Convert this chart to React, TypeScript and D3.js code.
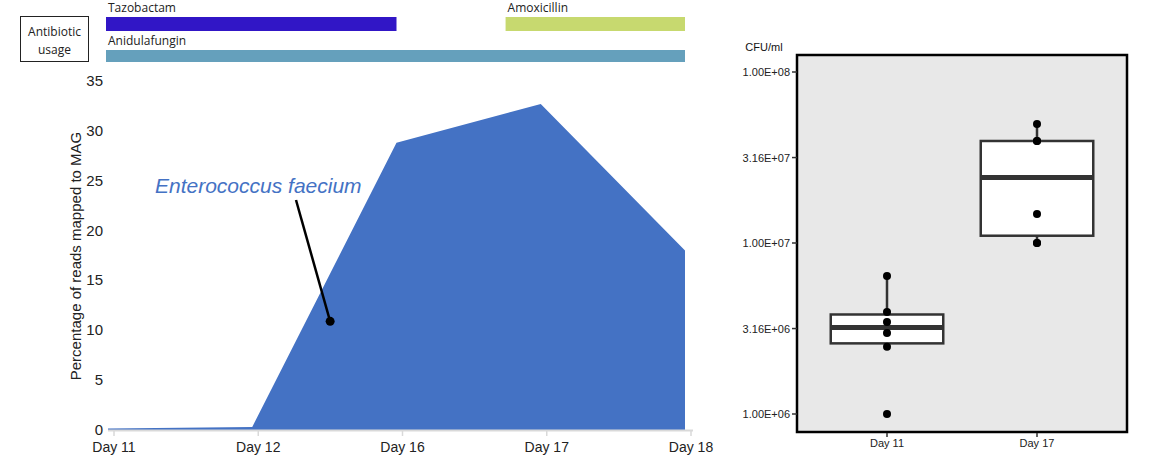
import React from "react";
import * as d3 from "d3";

// ---- Left chart data ----
const days = ["Day 11", "Day 12", "Day 16", "Day 17", "Day 18"];
const percentReads = [0.15, 0.3, 28.8, 32.7, 18.0];
const yTicksLeft = [0, 5, 10, 15, 20, 25, 30, 35];

// antibiotic usage spans, in day-index units
const antibioticNames = ["Tazobactam", "Amoxicillin", "Anidulafungin"];
const antibioticStart = [0, 2.77, 0];
const antibioticEnd = [2.0, 4, 4];
const antibioticRow = [0, 0, 1];
const antibioticColors = ["#3116c6", "#c7d96f", "#65a0bc"];

// ---- Right chart data ----
const cfuGroups = ["Day 11", "Day 17"];
const cfuDay11 = [1.0e6, 2.47e6, 2.98e6, 3.45e6, 3.95e6, 6.41e6];
const cfuDay17 = [1.0e7, 1.0e7, 1.48e7, 3.95e7, 3.95e7, 4.97e7];
const cfuTicks = [1e6, 3.16e6, 1e7, 3.16e7, 1e8];
const cfuTickLabels = ["1.00E+06", "3.16E+06", "1.00E+07", "3.16E+07", "1.00E+08"];

function boxStats(vals: number[]) {
  const logs = vals.map((v) => Math.log10(v)).sort(d3.ascending);
  const q1 = d3.quantile(logs, 0.25)!;
  const med = d3.quantile(logs, 0.5)!;
  const q3 = d3.quantile(logs, 0.75)!;
  const iqr = q3 - q1;
  const lo = d3.min(logs.filter((l) => l >= q1 - 1.5 * iqr))!;
  const hi = d3.max(logs.filter((l) => l <= q3 + 1.5 * iqr))!;
  const p = (l: number) => Math.pow(10, l);
  return { q1: p(q1), med: p(med), q3: p(q3), lo: p(lo), hi: p(hi) };
}

export default function App() {
  const W = 1166, H = 463;
  // left scales
  const x = d3.scalePoint<string>().domain(days).range([108, 685]);
  const xi = d3.scaleLinear().domain([0, days.length - 1]).range([108, 685]);
  const y = d3.scaleLinear().domain([0, 35]).range([430, 81]);
  const area = d3
    .area<number>()
    .x((_, i) => x(days[i])!)
    .y0(y(0))
    .y1((d) => y(d));
  const tickOffset = 6;

  // right scales
  const px0 = 797, px1 = 1127, py0 = 55, py1 = 432;
  const xr = d3.scalePoint<string>().domain(cfuGroups).range([px0, px1]).padding(0.6);
  const boxW = xr.step() * 0.75;
  const yr = d3.scaleLog().domain([1e6, 1e8]).range([414, 72]);
  const groupsData = [cfuDay11, cfuDay17];

  const sans = "'Liberation Sans', Arial, sans-serif";
  const ui = "'Open Sans', 'Noto Sans', sans-serif";

  return (
    <svg width={W} height={H} style={{ position: "absolute", left: 0, top: 0, background: "#fff" }}>
      {/* Antibiotic usage box */}
      <rect x={20.5} y={16.5} width={68} height={45} fill="#fff" stroke="#222" strokeWidth={1} />
      <text x={54.5} y={36} textAnchor="middle" fontFamily={ui} fontSize={12} fill="#222">Antibiotic</text>
      <text x={54.5} y={54} textAnchor="middle" fontFamily={ui} fontSize={12} fill="#222">usage</text>
      {antibioticNames.map((n, i) => {
        const top = antibioticRow[i] === 0 ? 17 : 50;
        const h = antibioticRow[i] === 0 ? 14 : 12;
        const x0 = xi(antibioticStart[i]);
        const x1 = xi(antibioticEnd[i]);
        return (
          <g key={n}>
            <rect x={x0 - 2} y={top} width={x1 - x0 + 2} height={h} fill={antibioticColors[i]} />
            <text x={x0} y={top - 5} fontFamily={ui} fontSize={12} fill="#222">{n}</text>
          </g>
        );
      })}

      {/* Left area chart */}
      <path d={area(percentReads)!} fill="#4472c4" />
      <line x1={108} x2={693} y1={430.5} y2={430.5} stroke="#d9d9d9" strokeWidth={2} />
      {days.map((d) => (
        <g key={d}>
          <line x1={x(d)! + tickOffset} x2={x(d)! + tickOffset} y1={430} y2={436} stroke="#d9d9d9" strokeWidth={1.5} />
          <text x={x(d)! + tickOffset} y={452} textAnchor="middle" fontFamily={sans} fontSize={14} fill="#222">{d}</text>
        </g>
      ))}
      {yTicksLeft.map((t) => (
        <text key={t} x={103} y={y(t) + 5} textAnchor="end" fontFamily={sans} fontSize={15} fill="#222">{t}</text>
      ))}
      <text
        transform={`translate(81, ${256}) rotate(-90)`}
        textAnchor="middle"
        fontFamily={sans}
        fontSize={15}
        fill="#222"
      >
        Percentage of reads mapped to MAG
      </text>
      <text x={155} y={193} fontFamily={sans} fontSize={21} fontStyle="italic" fill="#4472c4">Enterococcus faecium</text>
      <line x1={296} y1={200} x2={xi(1.54)} y2={y(10.9)} stroke="#000" strokeWidth={2.5} />
      <circle cx={xi(1.54)} cy={y(10.9)} r={4.5} fill="#000" />

      {/* Right box plot */}
      <text x={764} y={51} textAnchor="middle" fontFamily={sans} fontSize={11} fill="#111">CFU/ml</text>
      <rect x={px0} y={py0} width={px1 - px0} height={py1 - py0} fill="#e8e8e8" stroke="#000" strokeWidth={2.5} />
      {cfuTicks.map((t, i) => (
        <g key={t}>
          <line x1={792} x2={px0} y1={yr(t)} y2={yr(t)} stroke="#333" strokeWidth={1.5} />
          <text x={790} y={yr(t) + 4} textAnchor="end" fontFamily={sans} fontSize={11} fill="#222">{cfuTickLabels[i]}</text>
        </g>
      ))}
      {cfuGroups.map((g, gi) => {
        const cx = xr(g)!;
        const s = boxStats(groupsData[gi]);
        return (
          <g key={g}>
            <line x1={cx} x2={cx} y1={py1 + 1} y2={py1 + 5} stroke="#333" strokeWidth={1.5} />
            <text x={cx} y={447} textAnchor="middle" fontFamily={sans} fontSize={11} fill="#222">{g}</text>
            <line x1={cx} x2={cx} y1={yr(s.hi)} y2={yr(s.q3)} stroke="#333" strokeWidth={2.5} />
            <line x1={cx} x2={cx} y1={yr(s.q1)} y2={yr(s.lo)} stroke="#333" strokeWidth={2.5} />
            <rect
              x={cx - boxW / 2}
              y={yr(s.q3)}
              width={boxW}
              height={yr(s.q1) - yr(s.q3)}
              fill="#fff"
              stroke="#333"
              strokeWidth={2.5}
            />
            <line x1={cx - boxW / 2} x2={cx + boxW / 2} y1={yr(s.med)} y2={yr(s.med)} stroke="#333" strokeWidth={5} />
            {groupsData[gi].map((v, k) => (
              <circle key={k} cx={cx} cy={yr(v)} r={4} fill="#000" />
            ))}
          </g>
        );
      })}
    </svg>
  );
}
